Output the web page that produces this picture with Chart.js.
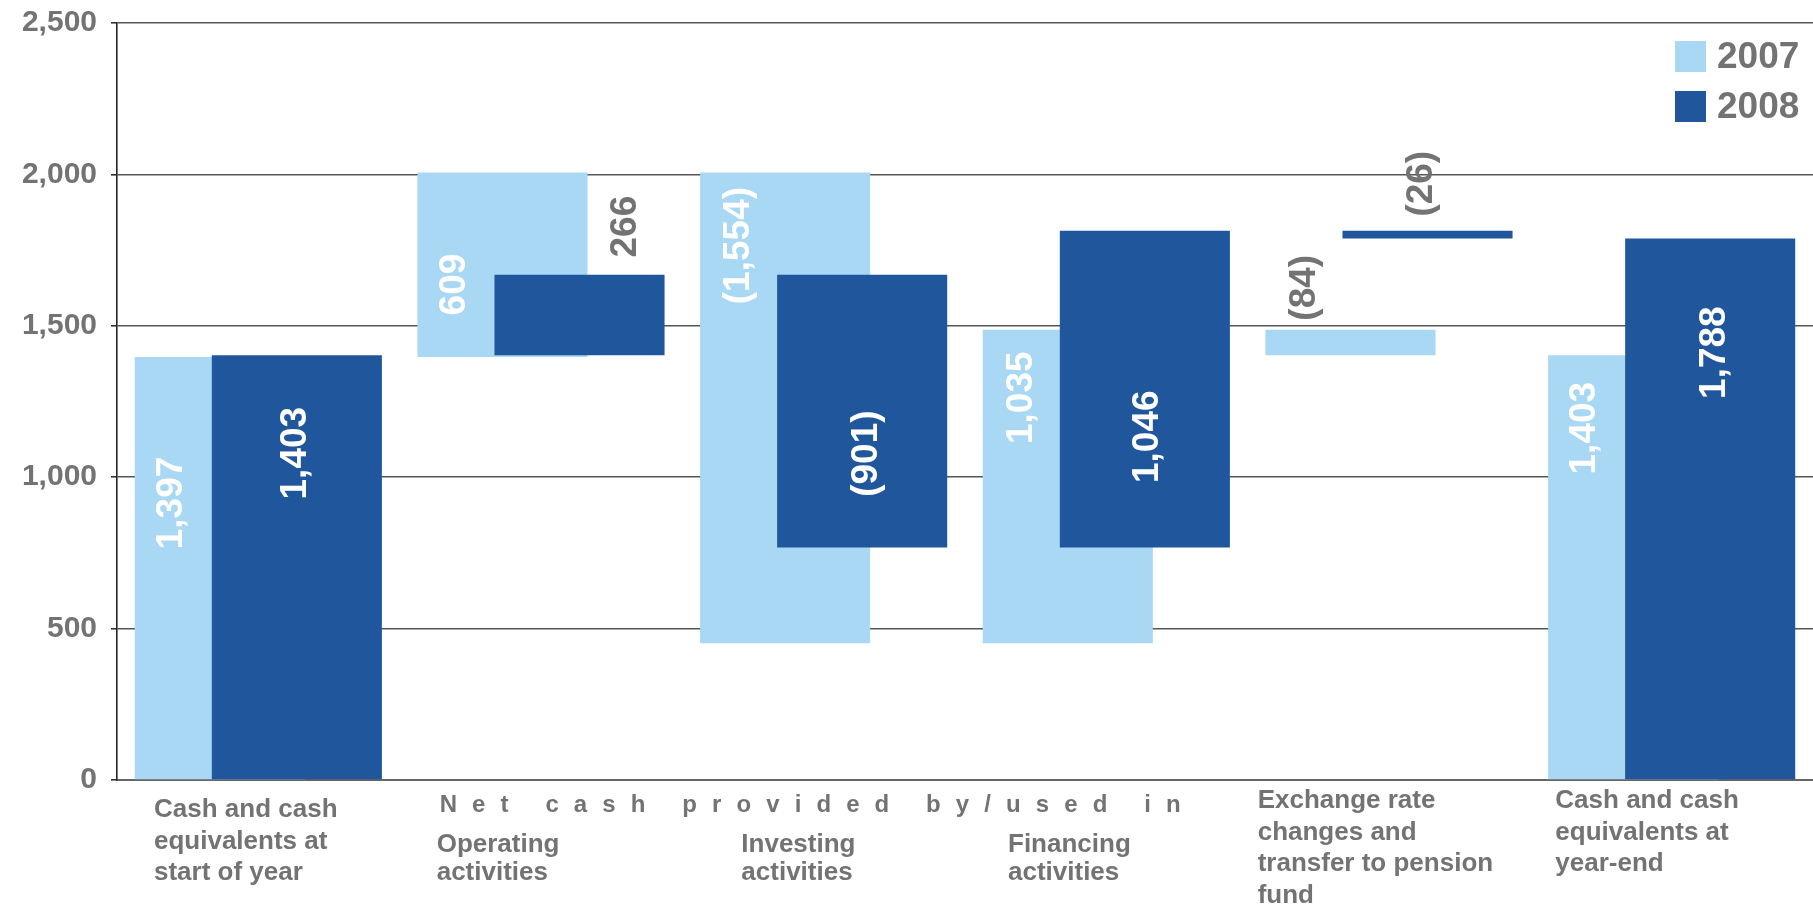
<!DOCTYPE html>
<html><head><meta charset="utf-8">
<script src="https://cdn.jsdelivr.net/npm/chart.js@4.4.1/dist/chart.umd.min.js"></script>
<style>html,body{margin:0;padding:0;background:#fff;overflow:hidden}canvas{display:block}</style>
</head><body>
<canvas id="c" width="1813" height="909"></canvas>
<script>
// ---------- data ----------
const categories = [
  'Cash and cash equivalents at start of year',
  'Operating activities',
  'Investing activities',
  'Financing activities',
  'Exchange rate changes and transfer to pension fund',
  'Cash and cash equivalents at year-end'
];
const categoryLines = [
  ['Cash and cash', 'equivalents at', 'start of year'],
  ['Operating', 'activities'],
  ['Investing', 'activities'],
  ['Financing', 'activities'],
  ['Exchange rate', 'changes and', 'transfer to pension', 'fund'],
  ['Cash and cash', 'equivalents at', 'year-end']
];
const groupHeader = 'Net cash provided by/used in';
const seriesNames = ['2007', '2008'];
const values2007 = [1397, 609, -1554, 1035, -84, 1403];
const values2008 = [1403, 266, -901, 1046, -26, 1788];
const totalFlags = [true, false, false, false, false, true];
const yTickValues = [0, 500, 1000, 1500, 2000, 2500];

// ---------- styles / layout ----------
const LIGHT = '#A8D8F4', DARK = '#1F569C', GREY = '#737373';
const FONT = '"Liberation Sans", Arial, Helvetica, sans-serif';
// value label placement: light bars -> dx from bar left edge; dark bars -> dx from bar centre; dy from bar top
const labelPlace2007 = [[35,146],[35,112],[37,73],[37,68],[37,-42],[35,73]];
const labelPlace2008 = [[-3,98],[44,-48],[3,179],[1,206],[-8,-47],[3,114]];
const labelColor2007 = ['#fff','#fff','#fff','#fff',GREY,'#fff'];
const labelColor2008 = ['#fff',GREY,'#fff','#fff',GREY,'#fff'];
// category label placement: dx from category left edge, first baseline below axis, line gap
const catLabelDx = [37, 37, 59, 43, 10, 25];
const catLabelBase = [37, 72, 72, 72, 28, 28];
const catLabelGap = [31.7, 28, 28, 28, 31.7, 31.7];

function toRanges(vals) {
  let run = 0;
  return vals.map((v, i) => {
    if (totalFlags[i]) { run = v; return [0, v]; }
    const s = run; run += v;
    return [Math.min(s, run), Math.max(s, run)];
  });
}
function fmt(v) {
  const s = Math.abs(v).toLocaleString('en-US');
  return v < 0 ? '(' + s + ')' : s;
}

const drawPlugin = {
  id: 'custom',
  beforeDatasetDraw(chart, args) {
    if (args.index === 1 && !chart.$late) return false;
  },
  afterDatasetsDraw(chart) {
    const ctx = chart.ctx;
    chart.$late = true;
    chart.getDatasetMeta(1).controller.draw();
    chart.$late = false;
    const sets = [
      {vals: values2007, place: labelPlace2007, col: labelColor2007, light: true},
      {vals: values2008, place: labelPlace2008, col: labelColor2008, light: false}
    ];
    ctx.save();
    ctx.font = 'bold 37px ' + FONT;
    ctx.textAlign = 'center';
    ctx.textBaseline = 'middle';
    sets.forEach((s, di) => {
      const meta = chart.getDatasetMeta(di);
      meta.data.forEach((bar, i) => {
        const p = bar.getProps(['x', 'y', 'base', 'width'], true);
        const top = Math.min(p.y, p.base);
        const x = s.light ? (p.x - p.width / 2 + s.place[i][0]) : (p.x + s.place[i][0]);
        const y = top + s.place[i][1];
        ctx.save();
        ctx.translate(x, y);
        ctx.rotate(-Math.PI / 2);
        ctx.fillStyle = s.col[i];
        ctx.fillText(fmt(s.vals[i]), 0, 2);
        ctx.restore();
      });
    });
    ctx.restore();
  },
  afterDraw(chart) {
    const ctx = chart.ctx, area = chart.chartArea, xs = chart.scales.x;
    const catW = (area.right - area.left) / categories.length;
    ctx.save();
    ctx.fillStyle = GREY;
    ctx.textBaseline = 'alphabetic';
    ctx.textAlign = 'left';
    ctx.font = 'bold 26px ' + FONT;
    categoryLines.forEach((lines, i) => {
      const left = xs.getPixelForValue(i) - catW / 2 + catLabelDx[i];
      lines.forEach((ln, j) => {
        ctx.fillText(ln, left, area.bottom + catLabelBase[i] + j * catLabelGap[i]);
      });
    });
    ctx.font = 'bold 24px ' + FONT;
    const hx = xs.getPixelForValue(1) - catW / 2 + 40;
    const span = 741;
    ctx.letterSpacing = '0px';
    const w0 = ctx.measureText(groupHeader).width;
    const sp = (span - w0) / (groupHeader.length - 1);
    ctx.letterSpacing = sp + 'px';
    ctx.fillText(groupHeader, hx, area.bottom + 32);
    ctx.letterSpacing = '0px';
    ctx.font = 'bold 37px ' + FONT;
    ctx.textBaseline = 'middle';
    [LIGHT, DARK].forEach((c, i) => {
      const y = 41 + i * 50;
      ctx.fillStyle = c;
      ctx.fillRect(area.right - 138, y, 31, 31);
      ctx.fillStyle = GREY;
      ctx.fillText(seriesNames[i], area.right - 96, y + 17);
    });
    ctx.restore();
  }
};

new Chart(document.getElementById('c'), {
  type: 'bar',
  data: {
    labels: categories,
    datasets: [
      {label: seriesNames[0], data: toRanges(values2007), backgroundColor: LIGHT, borderWidth: 0,
       categoryPercentage: 0.545, barPercentage: 2.208},
      {label: seriesNames[1], data: toRanges(values2008), backgroundColor: DARK, borderWidth: 0,
       categoryPercentage: 0.545, barPercentage: 2.208}
    ]
  },
  options: {
    responsive: false,
    animation: false,
    devicePixelRatio: 1,
    layout: {padding: {top: 23, right: 0, left: 0, bottom: 0}},
    plugins: {legend: {display: false}, tooltip: {enabled: false}},
    scales: {
      x: {
        grid: {display: false},
        ticks: {display: false},
        border: {display: true, color: '#666', width: 2},
        afterFit: s => { s.height = 129; s.paddingLeft = 0; s.paddingRight = 0; }
      },
      y: {
        min: 0, max: 2500,
        afterBuildTicks: s => { s.ticks = yTickValues.map(v => ({value: v})); },
        afterFit: s => { s.width = 117; s.paddingTop = 0; s.paddingBottom = 0; },
        ticks: {
          font: {family: FONT, size: 30, weight: 'bold'},
          color: GREY, padding: 14,
          callback: v => v.toLocaleString('en-US')
        },
        grid: {color: '#555', lineWidth: 1.6, tickLength: 6, tickColor: '#333'},
        border: {display: true, color: '#222', width: 1.6}
      }
    }
  },
  plugins: [drawPlugin]
});
</script>
</body></html>
